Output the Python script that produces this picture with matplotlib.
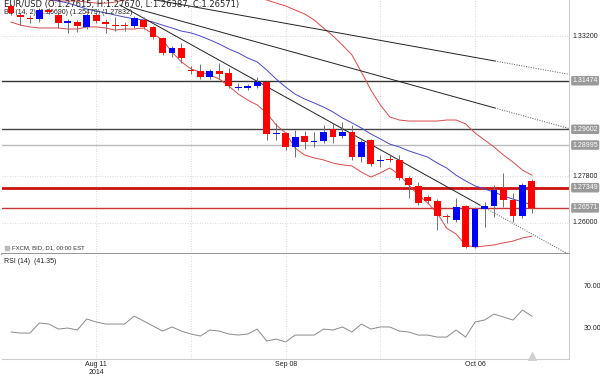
import matplotlib
matplotlib.use("Agg")
import matplotlib.pyplot as plt
import numpy as np
import pandas as pd

plt.rcParams['font.family'] = ['Liberation Sans', 'DejaVu Sans']

# daily sessions shown (Jul 29 - Oct 14, 2014)
dates = pd.bdate_range("2014-07-29", "2014-10-14")

opens = [1.3436, 1.3401, 1.3389, 1.3386, 1.3420, 1.3401, 1.3372, 1.3374, 1.3355, 1.3401,
         1.3374, 1.3360, 1.3359, 1.3359, 1.3382, 1.3355, 1.3312, 1.3254, 1.3274, 1.3189,
         1.3185, 1.3162, 1.3185, 1.3177, 1.3118, 1.3121, 1.3127, 1.3143, 1.2941, 1.2946,
         1.2892, 1.2934, 1.2910, 1.2915, 1.2961, 1.2934, 1.2950, 1.2853, 1.2919, 1.2837,
         1.2846, 1.2842, 1.2772, 1.2741, 1.2699, 1.2684, 1.2623, 1.2610, 1.2664, 1.2506,
         1.2653, 1.2664, 1.2734, 1.2687, 1.2626, 1.27615]
highs = [1.3443, 1.3409, 1.3401, 1.3428, 1.3428, 1.3413, 1.3386, 1.3382, 1.3409, 1.3409,
         1.3386, 1.3393, 1.3374, 1.3397, 1.3393, 1.3359, 1.3316, 1.3282, 1.3293, 1.3204,
         1.3212, 1.3193, 1.3216, 1.3197, 1.3139, 1.3135, 1.3162, 1.3147, 1.2984, 1.2950,
         1.2958, 1.2954, 1.2950, 1.2977, 1.2984, 1.2988, 1.2977, 1.2919, 1.2923, 1.2861,
         1.2861, 1.2861, 1.2780, 1.2757, 1.2707, 1.2691, 1.2634, 1.2695, 1.2668, 1.2660,
         1.2680, 1.2745, 1.2792, 1.2714, 1.2753, 1.27670]
lows = [1.3401, 1.3362, 1.3370, 1.3374, 1.3405, 1.3351, 1.3332, 1.3335, 1.3347, 1.3370,
        1.3332, 1.3339, 1.3339, 1.3351, 1.3347, 1.3308, 1.3247, 1.3239, 1.3216, 1.3174,
        1.3154, 1.3154, 1.3154, 1.3120, 1.3112, 1.3112, 1.3120, 1.2919, 1.2919, 1.2880,
        1.2853, 1.2884, 1.2892, 1.2907, 1.2907, 1.2927, 1.2842, 1.2834, 1.2819, 1.2815,
        1.2834, 1.2765, 1.2695, 1.2668, 1.2676, 1.2572, 1.2599, 1.2603, 1.2502, 1.2502,
        1.2583, 1.2622, 1.2660, 1.2603, 1.2618, 1.26387]
closes = [1.3409, 1.3393, 1.3386, 1.3420, 1.3413, 1.3370, 1.3374, 1.3359, 1.3401, 1.3378,
          1.3366, 1.3358, 1.3358, 1.3389, 1.3355, 1.3316, 1.3254, 1.3274, 1.3235, 1.3185,
          1.3162, 1.3185, 1.3174, 1.3127, 1.3120, 1.3123, 1.3143, 1.2942, 1.2943, 1.2892,
          1.2931, 1.2911, 1.2912, 1.2950, 1.2931, 1.2950, 1.2853, 1.2911, 1.2826, 1.2839,
          1.2842, 1.2772, 1.2745, 1.2676, 1.2684, 1.2626, 1.2621, 1.2660, 1.2506, 1.2653,
          1.2664, 1.2726, 1.2687, 1.2626, 1.2745, 1.26571]

# Bollinger bands
bb_upper = [1.3478, 1.3478, 1.3470, 1.3467, 1.3459, 1.3455, 1.3455, 1.3455, 1.3451, 1.3447,
            1.3447, 1.3451, 1.3459, 1.3467, 1.3470, 1.3474, 1.3482, 1.3490, 1.3490, 1.3490,
            1.3490, 1.3490, 1.3490, 1.3486, 1.3482, 1.3474, 1.3467, 1.3459, 1.3447, 1.3436,
            1.3420, 1.3405, 1.3382, 1.3351, 1.3320, 1.3285, 1.3247, 1.3181, 1.3112, 1.3054,
            1.3008, 1.2996, 1.2992, 1.2992, 1.2992, 1.2992, 1.2996, 1.2996, 1.2981, 1.2946,
            1.2919, 1.2892, 1.2861, 1.2834, 1.2803, 1.27832]
bb_mid = [1.3505, 1.3494, 1.3486, 1.3474, 1.3463, 1.3455, 1.3447, 1.3436, 1.3424, 1.3416,
          1.3409, 1.3401, 1.3393, 1.3386, 1.3382, 1.3374, 1.3362, 1.3351, 1.3339, 1.3332,
          1.3320, 1.3305, 1.3289, 1.3270, 1.3255, 1.3235, 1.3220, 1.3189, 1.3154, 1.3123,
          1.3096, 1.3077, 1.3062, 1.3046, 1.3027, 1.3004, 1.2985, 1.2965, 1.2942, 1.2923,
          1.2903, 1.2892, 1.2877, 1.2865, 1.2853, 1.2830, 1.2811, 1.2783, 1.2761, 1.2742,
          1.2730, 1.2718, 1.2703, 1.2691, 1.2680, 1.26690]
bb_lower = [1.3374, 1.3362, 1.3355, 1.3351, 1.3351, 1.3351, 1.3347, 1.3347, 1.3355, 1.3355,
            1.3351, 1.3343, 1.3347, 1.3347, 1.3351, 1.3328, 1.3305, 1.3258, 1.3220, 1.3193,
            1.3181, 1.3170, 1.3154, 1.3127, 1.3096, 1.3073, 1.3054, 1.3023, 1.2977, 1.2946,
            1.2888, 1.2861, 1.2850, 1.2842, 1.2830, 1.2823, 1.2819, 1.2795, 1.2776, 1.2792,
            1.2811, 1.2784, 1.2745, 1.2707, 1.2676, 1.2637, 1.2579, 1.2556, 1.2514, 1.2506,
            1.2510, 1.2514, 1.2522, 1.2529, 1.2541, 1.25479]

rsi = [26.2, 25.2, 25.2, 34.8, 33.8, 29.0, 30.0, 28.1, 38.6, 35.7,
       33.8, 33.8, 33.8, 41.4, 36.7, 31.9, 27.1, 31.0, 27.1, 24.3,
       22.4, 28.1, 27.1, 24.3, 23.3, 24.3, 29.0, 17.6, 19.5, 16.7,
       23.3, 23.3, 23.3, 29.0, 28.1, 31.0, 26.2, 33.8, 29.0, 31.0,
       31.0, 27.1, 26.2, 23.3, 23.3, 21.4, 21.4, 28.1, 21.4, 35.7,
       37.6, 43.3, 40.5, 37.6, 47.1, 41.35]

# trend lines: (session index, price) anchors; dotted beyond second anchor
trend_lines = [((15.3, 1.34589), (51.1, 1.32236)),
               ((12.6, 1.34319), (51.1, 1.30423)),
               ((11.5, 1.34396), (49.5, 1.26682))]

grid_prices = [1.33200, 1.27800, 1.26000]
level_prices = [1.31474, 1.29602, 1.28995, 1.27349, 1.26571]
level_colors = ['#333333', '#444444', '#bbbbbb', '#cc1111', '#cc3333']
level_widths = [1.0, 1.0, 1.0, 2.0, 1.0]

week_ticks = [9, 19, 29, 39, 49]
label_ticks = [9, 29, 49]

x = np.arange(len(dates))
o = np.array(opens); c = np.array(closes)
up = c >= o
body_col = np.where(up, '#0000ff', '#ff0000')

fig = plt.figure(figsize=(6.0, 3.77), dpi=100)
ax = fig.add_axes([2 / 600, 1 - 254 / 377, 567 / 600, 254 / 377])
ax_r = fig.add_axes([2 / 600, 1 - 359 / 377, 567 / 600, 105 / 377])

xmin, xmax = -0.95, 58.92
for a in (ax, ax_r):
    a.set_xlim(xmin, xmax)
    for xt in week_ticks:
        a.axvline(xt, color='#cccccc', lw=0.6, ls=(0, (1, 2)), zorder=0)
    for s in ('left', 'top'):
        a.spines[s].set_visible(False)
    a.spines['right'].set_color('#cccccc')
    a.spines['right'].set_linewidth(0.8)
    a.tick_params(left=False, right=False, labelleft=False)

ax.set_ylim(1.24792, 1.34589)
ax.spines['bottom'].set_color('#8f8f8f')
ax.spines['bottom'].set_linewidth(1.3)
ax.set_xticks([])

for p in grid_prices:
    ax.axhline(p, color='#cccccc', lw=0.6, ls=(0, (1, 2)), zorder=0)
    ax.text(1.006, p, f"{p:.5f}", transform=ax.get_yaxis_transform(),
            va='center', ha='left', fontsize=5, color='#222222', clip_on=False)

for p, col, lw in zip(level_prices, level_colors, level_widths):
    ax.axhline(p, color=col, lw=lw, zorder=1)
    ax.text(1.006, p, f"{p:.5f}", transform=ax.get_yaxis_transform(),
            va='center', ha='left', fontsize=5, color='white', clip_on=False,
            bbox=dict(boxstyle='round,pad=0.18', fc='#9a9a9a', ec='none'))

# Bollinger bands
ax.plot(x, bb_upper, color='#d84a4a', lw=0.7, zorder=2)
ax.plot(x, bb_lower, color='#d84a4a', lw=0.7, zorder=2)
ax.plot(x, bb_mid, color='#4848c8', lw=0.7, zorder=2)

# trend lines
for (x1, y1), (x2, y2) in trend_lines:
    slope = (y2 - y1) / (x2 - x1)
    ax.plot([x1, x2], [y1, y2], color='#222222', lw=0.7, zorder=2)
    ax.plot([x2, xmax], [y2, y2 + slope * (xmax - x2)], color='#555555',
            lw=0.7, ls=(0, (1, 1.5)), zorder=2)

# candles
ax.vlines(x, lows, highs, color='#707070', lw=0.7, zorder=3)
body_bot = np.minimum(o, c)
body_h = np.maximum(np.abs(c - o), 0.0005)
ax.bar(x, body_h, bottom=body_bot, width=0.72, color=body_col, linewidth=0, zorder=4)

ax.text(0.003, 0.982, "EUR/USD (O:1.27615, H:1.27670, L:1.26387, C:1.26571)",
        transform=ax.transAxes, fontsize=6, family='DejaVu Sans',
        color='#222222', va='center', ha='left')
ax.text(0.003, 0.95, "BB (14, 2) (1.26690) (1.25479) (1.27832)",
        transform=ax.transAxes, fontsize=5, color='#222222', va='center', ha='left')
ax.text(0.017, 0.026, "FXCM, BID, D1, 00:00 EST", transform=ax.transAxes,
        fontsize=4.3, color='#333333', va='center', ha='left')
ax.scatter([0.009], [0.024], marker='s', s=6, color='#bbbbbb',
           transform=ax.transAxes, clip_on=False, zorder=5)

# RSI panel
ax_r.set_ylim(0.5, 100.5)
ax_r.spines['bottom'].set_color('#cccccc')
ax_r.spines['bottom'].set_linewidth(0.8)
ax_r.plot(x, rsi, color='#8a8a8a', lw=0.7)
for v in (70, 30):
    ax_r.text(1.025, v, f"{v:.2f}", transform=ax_r.get_yaxis_transform(),
              va='center', ha='left', fontsize=5, color='#222222', clip_on=False)
ax_r.text(0.003, 0.925, "RSI (14)  (41.35)", transform=ax_r.transAxes,
          fontsize=5, color='#222222', va='center', ha='left')
ax_r.scatter([x[-1]], [3.5], marker='^', s=30, color='#d0d0d0', zorder=3,
             clip_on=False)

ax_r.set_xticks(label_ticks)
ax_r.set_xticklabels([d.strftime('%b %d') + ('\n2014' if i == 0 else '')
                      for i, d in enumerate(dates[label_ticks])],
                     fontsize=5, color='#222222')
ax_r.tick_params(axis='x', length=0, pad=1.5)

fig.savefig("out.png", dpi=100)
